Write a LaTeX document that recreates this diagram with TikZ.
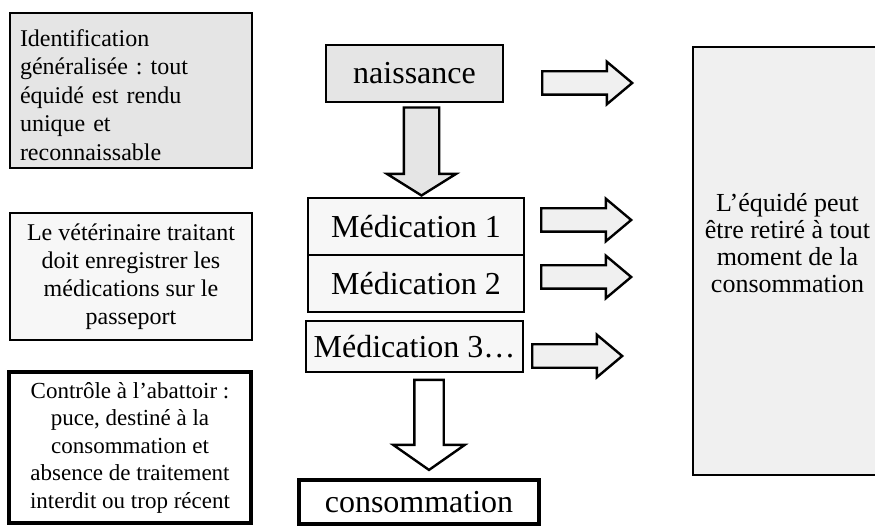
\documentclass[tikz,border=0pt]{standalone}
\usepackage{fontspec}
\setmainfont{Liberation Serif}
\usetikzlibrary{calc}
\usetikzlibrary{shapes.arrows}
\frenchspacing

\tikzset{
  box/.style={draw=black, line width=2.2pt, inner sep=0pt, align=center},
  thickbox/.style={box, line width=3.2pt},
  bigtext/.style={font=\fontsize{32}{36}\selectfont},
  rarrow/.style={single arrow, draw=black, line width=2.4pt, fill=black!6, inner sep=10.5pt, minimum width=40pt, minimum height=90pt, single arrow head extend=9.5pt, single arrow tip angle=80},
  darrow/.style={single arrow, draw=black, line width=2.4pt, shape border rotate=270}
}

\begin{document}
\begin{tikzpicture}[x=10pt, y=-10pt]
\useasboundingbox (0,0) rectangle (87.5,52.6);

% left column
\node[box, fill=black!10, minimum width=242pt, minimum height=155pt, text width=222pt, align=left, font=\fontsize{24}{28.5}\selectfont] (ident) at (13.1,9.05) {\rule{0pt}{26pt}Identification\\ généralisée : tout\\ équidé est rendu\\ unique et\\ reconnaissable};
\node[box, fill=black!3, minimum width=242pt, minimum height=127pt, font=\fontsize{24}{28}\selectfont] (veto) at (13.1,27.65) {Le vétérinaire traitant\\ doit enregistrer les\\ médications sur le\\ passeport};
\node[thickbox, fill=white, minimum width=242pt, minimum height=151pt, font=\fontsize{23}{27.5}\selectfont] (abatt) at (13.0,44.75) {Contrôle à l’abattoir :\\ puce, destiné à la\\ consommation et\\ absence de traitement\\ interdit ou trop récent};

% middle column
\node[box, bigtext, fill=black!10, minimum width=177pt, minimum height=57pt] (naiss) at (41.45,7.35) {naissance};
\node[box, bigtext, fill=black!3, minimum width=216pt, minimum height=57pt] (med1) at (41.6,22.65) {Médication 1};
\node[box, bigtext, fill=black!3, minimum width=216pt, minimum height=57pt] (med2) at (41.6,28.35) {Médication 2};
\node[box, bigtext, fill=black!3, minimum width=217pt, minimum height=51pt] (med3) at (41.45,34.65) {Médication 3…};
\node[thickbox, bigtext, fill=white, minimum width=240pt, minimum height=44pt] (conso) at (41.9,50.2) {consommation};

\node[darrow, fill=black!10, inner sep=16.5pt, minimum width=67pt, minimum height=88pt, single arrow head extend=17pt, single arrow tip angle=116, anchor=tip] (down1) at ($(med1.north)+(.55,0)$) {};
\node[darrow, fill=white, inner sep=13.5pt, minimum width=69pt, minimum height=90pt, single arrow head extend=21pt, single arrow tip angle=110, anchor=tip] (down2) at ($(conso.north)+(1,-.7)$) {};

% right column
\node[box, fill=black!6, minimum width=189pt, minimum height=428pt] (retrait) at (78.75,26.1) {};
\node[align=center, font=\fontsize{26}{27}\selectfont] (retraittxt) at ($(retrait.center)+(0,-1.8)$) {L’équidé peut\\ être retiré à tout\\ moment de la\\ consommation};

\foreach \x/\y [count=\i] in {54.1/8.3, 54/22, 54/27.7, 53.1/35.6}
  \node[rarrow, anchor=tail] (out\i) at (\x,\y) {};

\end{tikzpicture}
\end{document}
